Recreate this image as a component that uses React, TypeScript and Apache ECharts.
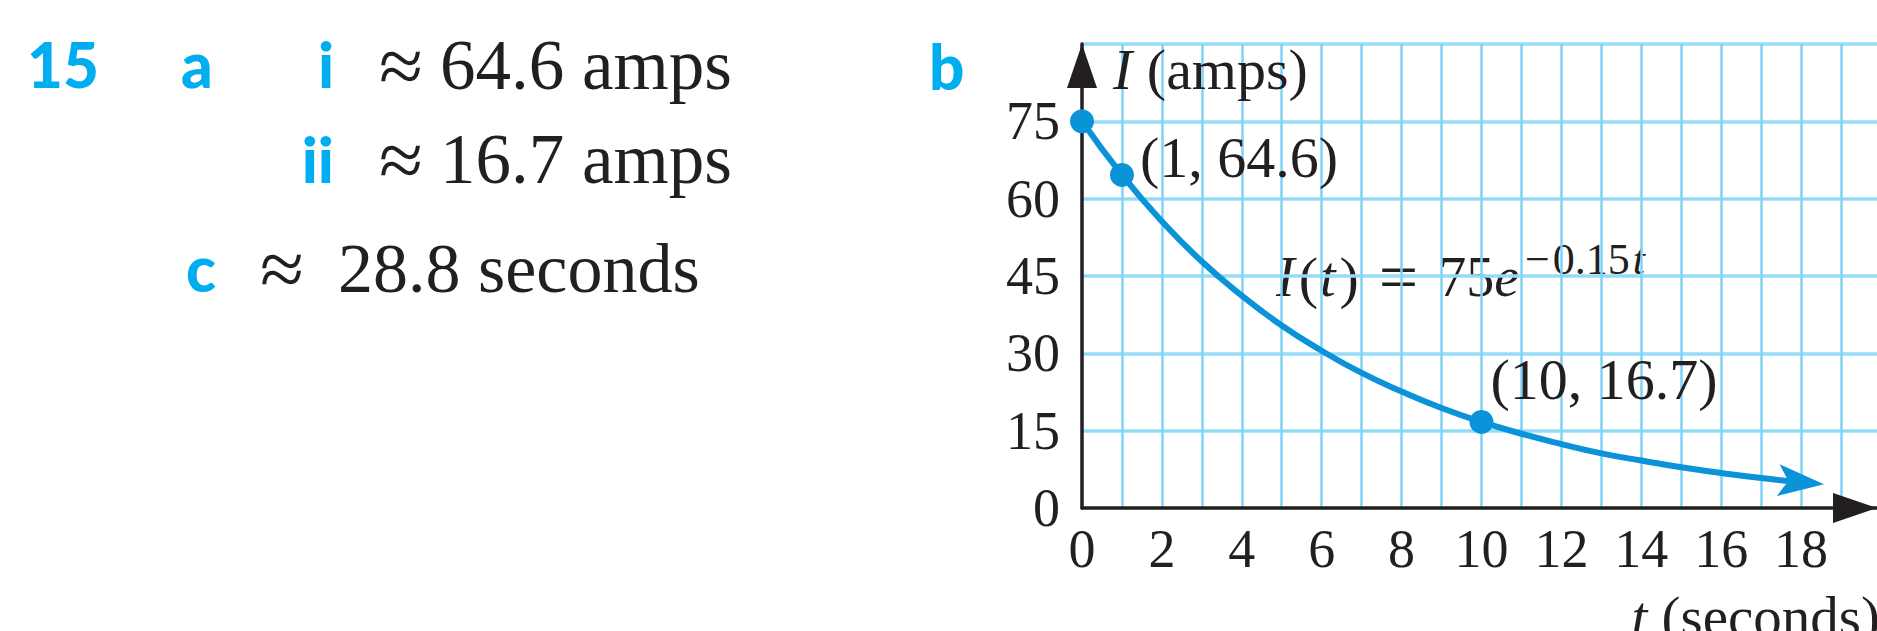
import React, { useEffect, useRef } from "react";
import * as echarts from "echarts";

// ---------- data ----------
const curveT = [0, 1, 2, 3, 4, 5, 6, 7, 8, 9, 10, 11, 12, 13, 14, 15, 16, 17, 18];
const curveI = [75, 64.6, 55.6, 47.8, 41.2, 35.4, 30.5, 26.2, 22.6, 19.4, 16.7, 14.4, 12.4, 10.6, 9.2, 7.9, 6.8, 5.8, 5.0];
const markedT = [0, 1, 10];
const markedI = [75, 64.6, 16.7];
const markedLabels = ["", "(1, 64.6)", "(10, 16.7)"];
const arrowHead = [18.0, 5.0];
const xLabelled = [0, 2, 4, 6, 8, 10, 12, 14, 16, 18];
const yLabelled = [0, 15, 30, 45, 60, 75];
const xMax = 19.9;
const yMax = 90;
const answerValues = ["64.6 amps", "16.7 amps", "28.8 seconds"];
const partLabels = ["15", "a", "i", "ii", "c", "b"];

// ---------- styles ----------
const SERIF = '"Liberation Serif", "Times New Roman", serif';
const SANS = 'Lato, "Open Sans", sans-serif';
const INK = "#231f20";
const CYAN = "#00aeef";
const CURVE = "#0a93d8";
const GRID_V = "#7fd3f6";
const GRID_H = "#95dbf7";

export default function App() {
  const ref = useRef<HTMLDivElement>(null);

  useEffect(() => {
    if (!ref.current) return;
    const chart = echarts.init(ref.current, undefined, { renderer: "svg" });

    const partText = (text: string, x: number, y: number, align = "left") => ({
      type: "text",
      x,
      y,
      style: {
        text,
        fontFamily: SANS,
        fontWeight: 900,
        fontSize: 62,
        fill: CYAN,
        align,
        verticalAlign: "middle",
      },
    });
    const serifText = (text: string, x: number, y: number, size: number) => ({
      type: "text",
      x,
      y,
      style: {
        text,
        fontFamily: SERIF,
        fontSize: size,
        fill: INK,
        align: "left",
        verticalAlign: "middle",
      },
    });

    const option: any = {
      animation: false,
      backgroundColor: "#ffffff",
      grid: {
        left: 1082,
        right: 0,
        top: 44,
        bottom: 123,
        containLabel: false,
        outerBoundsMode: "none",
      },
      xAxis: {
        type: "value",
        min: 0,
        max: xMax,
        interval: 1,
        axisLine: {
          show: true,
          onZero: false,
          symbol: ["none", "triangle"],
          symbolSize: [30, 44],
          symbolOffset: [0, -22],
          lineStyle: { color: INK, width: 3.5 },
        },
        axisTick: { show: false },
        axisLabel: {
          formatter: (v: number) => (xLabelled.includes(v) ? String(v) : ""),
          margin: 14,
          fontFamily: SERIF,
          fontSize: 54,
          color: INK,
          showMinLabel: true,
          showMaxLabel: true,
        },
        splitLine: {
          show: true,
          showMinLine: false,
          showMaxLine: false,
          lineStyle: { color: GRID_V, width: 2.5 },
        },
        name: "{i|t} (seconds)",
        nameLocation: "end",
        nameGap: 3,
        nameMoveOverlap: false,
        nameTextStyle: {
          fontFamily: SERIF,
          fontSize: 57,
          color: INK,
          align: "right",
          verticalAlign: "top",
          padding: [80, 0, 0, 0],
          rich: {
            i: { fontFamily: SERIF, fontSize: 57, fontStyle: "italic", color: INK },
          },
        },
      },
      yAxis: {
        type: "value",
        min: 0,
        max: yMax,
        interval: 15,
        axisLine: {
          show: true,
          onZero: false,
          symbol: ["none", "triangle"],
          symbolSize: [30, 44],
          symbolOffset: [0, -22],
          lineStyle: { color: INK, width: 3.5 },
        },
        axisTick: { show: false },
        axisLabel: {
          formatter: (v: number) => (yLabelled.includes(v) ? String(v) : ""),
          margin: 22,
          fontFamily: SERIF,
          fontSize: 54,
          color: INK,
          showMinLabel: true,
          showMaxLabel: true,
        },
        splitLine: {
          show: true,
          showMinLine: false,
          lineStyle: { color: GRID_H, width: 3.5 },
        },
        name: "{i|I} (amps)",
        nameLocation: "end",
        nameGap: -25,
        nameMoveOverlap: false,
        nameTextStyle: {
          fontFamily: SERIF,
          fontSize: 58,
          color: INK,
          align: "left",
          verticalAlign: "middle",
          padding: [0, 0, 0, 31],
          rich: {
            i: { fontFamily: SERIF, fontSize: 58, fontStyle: "italic", color: INK },
          },
        },
      },
      series: [
        {
          type: "line",
          data: curveT.map((t, i) => [t, curveI[i]]),
          smooth: true,
          showSymbol: false,
          lineStyle: { color: CURVE, width: 6 },
          z: 3,
        },
        {
          type: "scatter",
          data: [arrowHead],
          symbol: "path://M0,0 L10,5 L0,10 L2.2,5 Z",
          symbolSize: [46, 32],
          symbolRotate: -5,
          itemStyle: { color: CURVE, opacity: 1 },
          z: 4,
        },
        {
          type: "scatter",
          data: markedT.map((t, i) => ({
            value: [t, markedI[i]],
            label: {
              show: markedLabels[i] !== "",
              formatter: markedLabels[i],
              position: "right",
              offset: i === 1 ? [1, -17] : [-8, -42],
            },
          })),
          symbol: "circle",
          symbolSize: 24,
          itemStyle: { color: CURVE, opacity: 1 },
          label: {
            fontFamily: SERIF,
            fontSize: 58,
            color: INK,
            opacity: 1,
          },
          z: 5,
        },
      ],
      graphic: [
        partText(partLabels[0], 27, 64),
        partText(partLabels[1], 181, 64),
        partText(partLabels[2], 334, 64, "right"),
        partText(partLabels[3], 334, 159, "right"),
        partText(partLabels[4], 186, 268),
        partText(partLabels[5], 929, 66),
        serifText("≈", 379, 66, 80),
        serifText(answerValues[0], 440, 65, 71),
        serifText("≈", 379, 160, 80),
        serifText(answerValues[1], 440, 159, 71),
        serifText("≈", 260, 269, 80),
        serifText(answerValues[2], 338, 268, 70),
        {
          type: "text",
          x: 1276,
          y: 277,
          style: {
            text: "{i|I}{pa|(}{i|t}{pc|)}{eq|=}75{e|e}",
            fontFamily: SERIF,
            fontSize: 56,
            fill: INK,
            align: "left",
            verticalAlign: "middle",
            rich: {
              i: { fontFamily: SERIF, fontSize: 56, fontStyle: "italic", fill: INK, padding: [0, 4, 0, 0] },
              e: { fontFamily: SERIF, fontSize: 56, fontStyle: "italic", fill: INK },
              pa: { fontFamily: SERIF, fontSize: 58, fill: INK, padding: [0, 2, 0, 0] },
              pc: { fontFamily: SERIF, fontSize: 58, fill: INK, padding: [0, 20, 0, 0] },
              eq: { fontFamily: SERIF, fontSize: 70, fill: INK, padding: [0, 20, 0, 0] },
            },
          },
        },
        {
          type: "text",
          x: 1525,
          y: 259,
          style: {
            text: "{m|−}0.15{i|t}",
            fontFamily: SERIF,
            fontSize: 44,
            fill: INK,
            align: "left",
            verticalAlign: "middle",
            rich: {
              m: { fontFamily: SERIF, fontSize: 44, fill: INK, padding: [0, 3, 0, 0] },
              i: { fontFamily: SERIF, fontSize: 44, fontStyle: "italic", fill: INK, padding: [0, 0, 0, 3] },
            },
          },
        },
      ],
    };

    chart.setOption(option);
    return () => chart.dispose();
  }, []);

  return (
    <div
      ref={ref}
      style={{ position: "absolute", left: 0, top: 0, width: 1877, height: 631 }}
    />
  );
}
